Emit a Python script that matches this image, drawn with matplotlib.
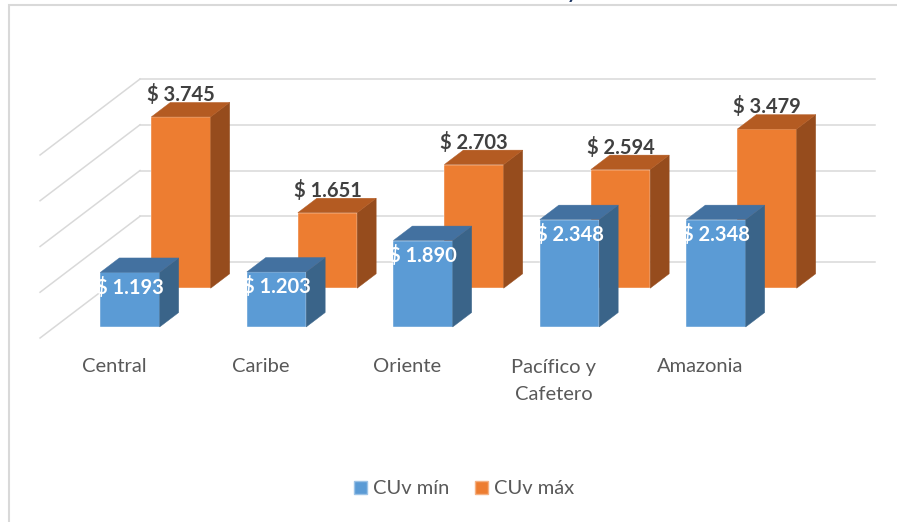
import matplotlib.pyplot as plt
from matplotlib.patches import Polygon, Patch, Rectangle

# Datos (CUv por región)
categorias = ["Central", "Caribe", "Oriente", "Pacífico y\nCafetero", "Amazonia"]
cuv_min = [1193, 1203, 1890, 2348, 2348]
cuv_max = [3745, 1651, 2703, 2594, 3479]
niveles = [0, 1000, 2000, 3000, 4000]

# colores estilo Excel (frente, arriba, lado)
azul = ("#5B9BD5", "#4371A0", "#3A6489")
naranja = ("#ED7D31", "#B45B22", "#964C1D")
gris_rejilla = "#D9D9D9"
gris_texto = "#595959"

plt.rcParams["font.family"] = ["Lato", "DejaVu Sans"]
TAM = 14.5

# escala: 1 categoría = 146.5 px, 1000 unidades = 45.75 px
PX_X = 146.5
PX_Y = 0.04575
DX = 100 / PX_X   # desplazamiento de profundidad (z=1 => pared del fondo)
DY = 76 / PX_Y
ANCHO = 0.405


def proj(x, z, v):
    return x + z * DX, v + z * DY


def fmt(v):
    return "$ " + f"{v:,}".replace(",", ".")


def barras_3d(ax, valores, z0, z1, colores, etiqueta_dentro):
    frente, arriba, lado = colores
    xs = [i + z0 * DX for i in range(len(valores))]
    ax.bar(xs, valores, width=ANCHO, bottom=z0 * DY, color=frente,
           edgecolor="#FFFFFF", linewidth=0.3, zorder=3)
    for i, v in enumerate(valores):
        xl, xr = i - ANCHO / 2, i + ANCHO / 2
        top = [proj(xl, z0, v), proj(xr, z0, v), proj(xr, z1, v), proj(xl, z1, v)]
        side = [proj(xr, z0, 0), proj(xr, z1, 0), proj(xr, z1, v), proj(xr, z0, v)]
        ax.add_patch(Polygon(side, closed=True, facecolor=lado,
                             edgecolor=lado, linewidth=0.3, zorder=3))
        ax.add_patch(Polygon(top, closed=True, facecolor=arriba,
                             edgecolor=arriba, linewidth=0.3, zorder=3))
        if etiqueta_dentro:
            ax.text(xs[i], v + z0 * DY - 15 / PX_Y, fmt(v), ha="center",
                    va="center", color="white", fontsize=TAM,
                    fontweight="bold", zorder=6)
        else:
            ax.text(xs[i], v + z1 * DY + 8 / PX_Y, fmt(v), ha="center",
                    va="center", color="#404040", fontsize=TAM,
                    fontweight="bold", zorder=6)


fig = plt.figure(figsize=(8.97, 5.22), dpi=100)
ax = fig.add_axes([0, 0, 1, 1])
ax.set_xlim(-115.5 / PX_X, (897 - 115.5) / PX_X)
ax.set_ylim((338 - 522) / PX_Y, 338 / PX_Y)
ax.axis("off")

# rejilla: pared izquierda (diagonales) y pared del fondo (horizontales)
x_izq, x_der = -0.515, 4.5
for n in niveles:
    a = proj(x_izq, 0, n)
    b = proj(x_izq, 1, n)
    c = proj(x_der, 1, n)
    ax.plot([a[0], b[0]], [a[1], b[1]], color=gris_rejilla, lw=1.1, zorder=1)
    ax.plot([b[0], c[0]], [b[1], c[1]], color=gris_rejilla, lw=1.1, zorder=1)

barras_3d(ax, cuv_max, 0.655, 0.845, naranja, False)
barras_3d(ax, cuv_min, 0.145, 0.335, azul, True)

# etiquetas de categoría (bajo el piso)
for i, cat in enumerate(categorias):
    for k, linea in enumerate(cat.split("\n")):
        ax.text(i - 0.01, -(367 + 27 * k - 338) / PX_Y, linea, ha="center",
                va="center", color=gris_texto, fontsize=TAM, zorder=5)

handles = [Patch(facecolor=azul[0], edgecolor="#9DC3E6", label="CUv mín"),
           Patch(facecolor=naranja[0], edgecolor="#F4B183", label="CUv máx")]
fig.legend(handles=handles, loc="center", bbox_to_anchor=(464 / 897, 1 - 489 / 522),
           ncol=2, frameon=False, fontsize=TAM, labelcolor=gris_texto,
           handlelength=0.65, handleheight=0.65, handletextpad=0.3,
           columnspacing=1.3)

# borde del área del gráfico
fig.patches.append(Rectangle((9 / 897, -0.1), 1.2, 1.1 - 5 / 522, fill=False,
                             edgecolor=gris_rejilla, lw=1.5,
                             transform=fig.transFigure))

# título recortado (solo se ve el trazo inferior)
fig.text(572 / 897, 1 + 1 / 522, "y", ha="center", va="baseline",
         color="#1F3864", fontsize=14, fontweight="bold")

fig.savefig("out.png", dpi=100)
